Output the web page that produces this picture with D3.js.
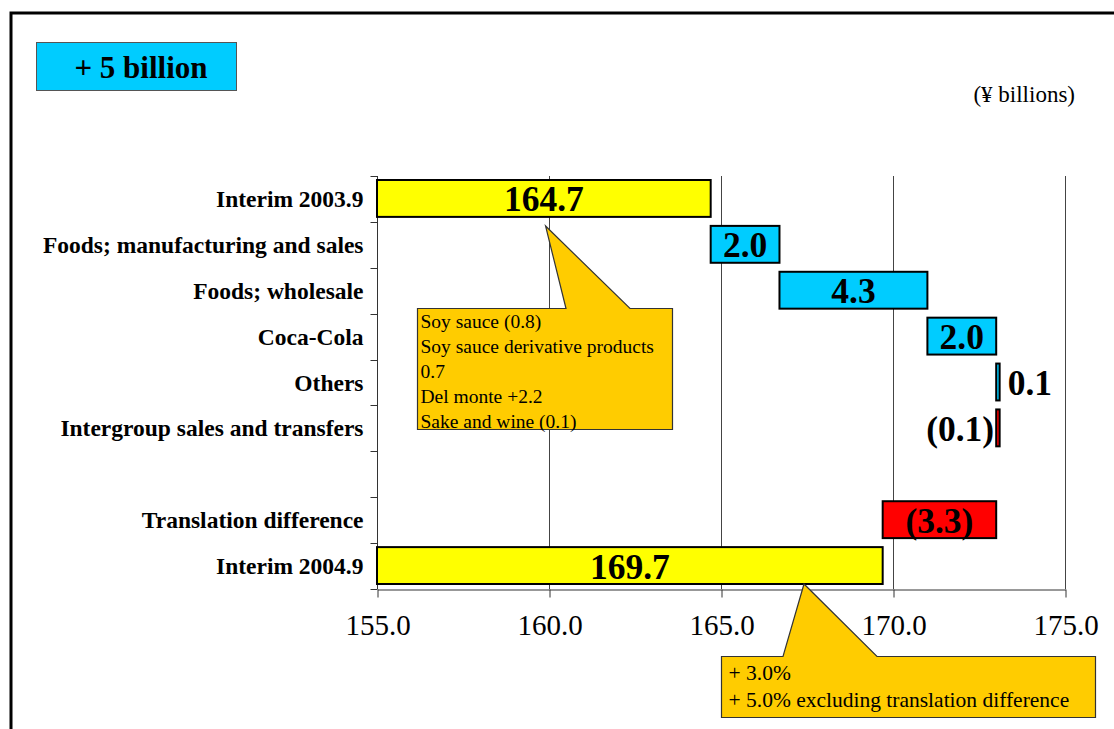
<!DOCTYPE html>
<html>
<head>
<meta charset="utf-8">
<script src="https://cdn.jsdelivr.net/npm/d3@7"></script>
<style>
  body { margin: 0; background: #fff; }
  svg { display: block; font-family: "Liberation Serif", "Times New Roman", serif; }
</style>
</head>
<body>
<svg></svg>
<script>
var width = 1114;
var height = 729;

// categories top to bottom, blank row kept as a gap
var categories = ["Interim 2003.9", "Foods; manufacturing and sales", "Foods; wholesale",
  "Coca-Cola", "Others", "Intergroup sales and transfers", "", "Translation difference", "Interim 2004.9"];
// bar start / end values (¥ billions)
var barStart = [155.0, 164.7, 166.7, 171.0, 173.0, 173.1, null, 173.0, 155.0];
var barEnd   = [164.7, 166.7, 171.0, 173.0, 173.1, 173.0, null, 169.7, 169.7];
var barLabels = ["164.7", "2.0", "4.3", "2.0", "0.1", "(0.1)", "", "(3.3)", "169.7"];
var barKind = ["total", "up", "up", "up", "up", "down", "", "down", "total"];
var xTicks = [155, 160, 165, 170, 175];

var note1 = ["Soy sauce (0.8)", "Soy sauce derivative products", "0.7", "Del monte +2.2", "Sake and wine (0.1)"];
var note2 = ["+ 3.0%", "+ 5.0% excluding translation difference"];

var colors = { total: "#ffff00", up: "#00ccff", down: "#ff0000" };

var svg = d3.select("svg")
      .attr("width", width)
      .attr("height", height);

// outer frame
svg.append("rect")
  .attr("x", 11).attr("y", 13)
  .attr("width", width + 20).attr("height", height + 20)
  .attr("fill", "none").attr("stroke", "#000").attr("stroke-width", 3);

// headline box
svg.append("rect")
  .attr("x", 36.5).attr("y", 42.5).attr("width", 200).attr("height", 48)
  .attr("fill", "#00ccff").attr("stroke", "#555").attr("stroke-width", 1);
svg.append("text")
  .attr("x", 141).attr("y", 78)
  .attr("text-anchor", "middle")
  .attr("font-size", 31).attr("font-weight", "bold")
  .text("+ 5 billion");

svg.append("text")
  .attr("x", 1075).attr("y", 102)
  .attr("text-anchor", "end")
  .attr("font-size", 23)
  .text("(¥ billions)");

var x = d3.scaleLinear().domain([155, 175]).range([377, 1065]);
var y = d3.scaleBand().domain(d3.range(categories.length)).range([176, 589]);

var g = svg.append("g");

// vertical gridlines
g.selectAll("line.grid")
  .data(xTicks.slice(1))
  .enter()
  .append("line")
  .attr("class", "grid")
  .attr("x1", function(d){ return x(d) + 0.5; })
  .attr("x2", function(d){ return x(d) + 0.5; })
  .attr("y1", 176).attr("y2", 589)
  .attr("stroke", "#444").attr("stroke-width", 1);

// x axis
var xAxis = g.append("g")
  .attr("transform", "translate(0.5,589.5)")
  .call(d3.axisBottom(x).tickValues(xTicks).tickFormat(d3.format(".1f")).tickSize(8).tickSizeOuter(0));
xAxis.select(".domain").attr("stroke", "#333");
xAxis.selectAll(".tick line").attr("stroke", "#333");
xAxis.selectAll("text")
  .attr("font-family", "Liberation Serif")
  .attr("font-size", 29)
  .attr("fill", "#000")
  .attr("dy", 0).attr("y", 45);

// y axis with ticks on band boundaries
var yAxisG = g.append("g").attr("transform", "translate(377.5,0)");
yAxisG.append("line")
  .attr("y1", 176).attr("y2", 589)
  .attr("stroke", "#333");
yAxisG.selectAll("line.tk")
  .data(d3.range(categories.length + 1))
  .enter()
  .append("line")
  .attr("class", "tk")
  .attr("x1", -7).attr("x2", 0)
  .attr("y1", function(d){ return Math.round(176 + d * y.step()) + 0.5; })
  .attr("y2", function(d){ return Math.round(176 + d * y.step()) + 0.5; })
  .attr("stroke", "#333");
yAxisG.selectAll("text")
  .data(categories)
  .enter()
  .append("text")
  .attr("x", -14)
  .attr("y", function(d, i){ return y(i) + y.bandwidth() / 2 + 8; })
  .attr("text-anchor", "end")
  .attr("font-size", 23.5)
  .attr("font-weight", "bold")
  .text(function(d){ return d; });

// bars
var rows = d3.range(categories.length).filter(function(i){ return barStart[i] !== null; });
g.selectAll("rect.bar")
  .data(rows)
  .enter()
  .append("rect")
  .attr("class", "bar")
  .attr("x", function(i){ return x(Math.min(barStart[i], barEnd[i])); })
  .attr("width", function(i){ return Math.abs(x(barEnd[i]) - x(barStart[i])); })
  .attr("y", function(i){ return y(i) + 4; })
  .attr("height", y.bandwidth() - 9)
  .attr("fill", function(i){ return colors[barKind[i]]; })
  .attr("stroke", "#000")
  .attr("stroke-width", 2);

// bar value labels
g.selectAll("text.val")
  .data(rows)
  .enter()
  .append("text")
  .attr("class", "val")
  .attr("font-size", 35.5)
  .attr("font-weight", "bold")
  .attr("y", function(i){ return y(i) + y.bandwidth() / 2 + 12.5; })
  .attr("x", function(i){
    var w = Math.abs(x(barEnd[i]) - x(barStart[i]));
    if (w < 20) {
      return barKind[i] == "up" ? x(Math.max(barStart[i], barEnd[i])) + 8 : x(Math.min(barStart[i], barEnd[i])) - 2;
    }
    return (x(barStart[i]) + x(barEnd[i])) / 2;
  })
  .attr("text-anchor", function(i){
    var w = Math.abs(x(barEnd[i]) - x(barStart[i]));
    if (w < 20) return barKind[i] == "up" ? "start" : "end";
    return "middle";
  })
  .text(function(i){ return barLabels[i]; });

// callouts
function callout(box, tip, base, lines, lineH, size, textDx, textDy) {
  var path = d3.path();
  path.moveTo(box.x, box.y);
  path.lineTo(base[0], box.y);
  path.lineTo(tip[0], tip[1]);
  path.lineTo(base[1], box.y);
  path.lineTo(box.x + box.w, box.y);
  path.lineTo(box.x + box.w, box.y + box.h);
  path.lineTo(box.x, box.y + box.h);
  path.closePath();
  svg.append("path")
    .attr("d", path.toString())
    .attr("fill", "#ffcc00")
    .attr("stroke", "#333")
    .attr("stroke-width", 1.2);
  svg.selectAll(null)
    .data(lines)
    .enter()
    .append("text")
    .attr("x", box.x + textDx)
    .attr("y", function(d, i){ return box.y + textDy + i * lineH; })
    .attr("font-size", size)
    .text(function(d){ return d; });
}

callout({x: 417.5, y: 308.5, w: 255, h: 121}, [x(159.9), 226], [566, 630], note1, 25, 19.5, 3, 19);
callout({x: 721.5, y: 656.5, w: 374, h: 61}, [804, 584], [783, 877], note2, 27, 21.5, 7, 23);
</script>
</body>
</html>
